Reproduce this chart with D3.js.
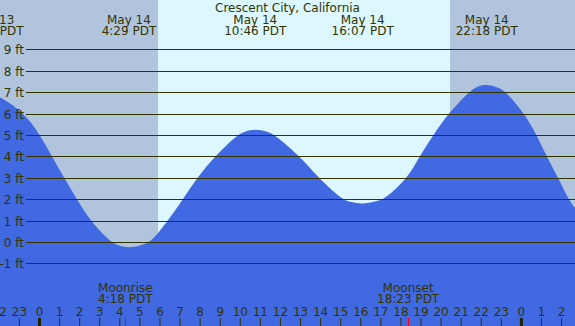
<!DOCTYPE html>
<html>
<head>
<meta charset="utf-8">
<script src="https://cdn.jsdelivr.net/npm/d3@7"></script>
<style>
  body { margin: 0; background: #fff; }
  svg { display: block; font-family: "DejaVu Sans", sans-serif; }
</style>
</head>
<body>
<div id="chart"></div>
<script>
// tide curve, hours from May 14 00:00 PDT -> feet
var tideHours = [-2.3, -1.94, -0.70, 0.05, 0.65, 1.25, 1.89, 2.54, 3.54, 4.03, 4.48, 5.03, 5.61, 6.42, 7.17, 7.87, 8.76, 9.8, 10.2, 10.77, 11.4, 11.8, 13.0, 13.91, 15.07, 15.55, 16.12, 16.75, 17.23, 18.38, 18.94, 19.64, 20.38, 21.4, 21.8, 22.30, 22.85, 23.29, 24.17, 24.79, 25.28, 25.86, 26.36, 26.72, 27.2];
var tideFeet  = [6.87, 6.80, 6.0, 5.0, 4.0, 3.0, 2.0, 1.0, 0.0, -0.19, -0.27, -0.17, 0.0, 1.0, 2.0, 3.0, 4.0, 4.95, 5.16, 5.28, 5.16, 4.97, 4.0, 3.0, 2.0, 1.86, 1.76, 1.90, 2.0, 3.0, 4.0, 5.0, 6.0, 7.0, 7.28, 7.37, 7.23, 7.0, 6.0, 5.0, 4.0, 3.0, 2.0, 1.55, 1.0];

// high / low tide labels
var eventHours = [-2.32, 4.48, 10.77, 16.12, 22.30];
var eventDates = ["May 13", "May 14", "May 14", "May 14", "May 14"];
var eventTimes = ["21:41 PDT", "4:29 PDT", "10:46 PDT", "16:07 PDT", "22:18 PDT"];

// moon
var moonHours = [4.30, 18.383];
var moonNames = ["Moonrise", "Moonset"];
var moonTimes = ["4:18 PDT", "18:23 PDT"];

// daylight
var sunrise = 5.93, sunset = 20.47;

var feetTicks = [-1, 0, 1, 2, 3, 4, 5, 6, 7, 8, 9];
var hourTicks = d3.range(-2, 27);

var W = 575, H = 326;
var night = "#b0c4de", day = "#ddf7fe", water = "#4169e1", ink = "#333300";

var svg = d3.select("#chart").append("svg")
  .attr("width", W)
  .attr("height", H);

var x = d3.scaleLinear().domain([0, 24]).range([39, 520.9]);
var y = d3.scaleLinear().domain([0, 9]).range([242, 49.4]);

// background: night then day
svg.append("rect")
  .attr("x", 0).attr("y", 0)
  .attr("width", W).attr("height", H)
  .attr("fill", night);
svg.append("rect")
  .attr("x", x(sunrise)).attr("y", 0)
  .attr("width", x(sunset) - x(sunrise)).attr("height", H)
  .attr("fill", day);

// water
var pts = tideHours.map(function(h, i) { return [h, tideFeet[i]]; });
var area = d3.area()
  .x(function(d) { return x(d[0]); })
  .y0(H)
  .y1(function(d) { return y(d[1]); })
  .curve(d3.curveBasis);
svg.append("path")
  .datum(pts)
  .attr("d", area)
  .attr("fill", water);

// feet grid
svg.selectAll(".grid")
  .data(feetTicks)
  .enter().append("line")
  .attr("x1", 26).attr("x2", W)
  .attr("y1", function(d) { return Math.round(y(d)) + 0.5; })
  .attr("y2", function(d) { return Math.round(y(d)) + 0.5; })
  .attr("stroke", ink)
  .attr("stroke-width", 1);
svg.selectAll(".flab")
  .data(feetTicks)
  .enter().append("text")
  .attr("x", 24)
  .attr("y", function(d) { return Math.round(y(d)) + 4.5; })
  .attr("text-anchor", "end")
  .attr("font-size", "12px")
  .attr("fill", ink)
  .text(function(d) { return d + " ft"; });

// title
svg.append("text")
  .attr("x", W / 2).attr("y", 12)
  .attr("text-anchor", "middle")
  .attr("font-size", "12px")
  .attr("fill", ink)
  .text("Crescent City, California");

// tide event labels
eventHours.forEach(function(h, i) {
  var t = svg.append("text")
    .attr("text-anchor", "middle")
    .attr("font-size", "12px")
    .attr("fill", ink);
  t.append("tspan").attr("x", x(h)).attr("y", 23.5).text(eventDates[i]);
  t.append("tspan").attr("x", x(h)).attr("y", 35).text(eventTimes[i]);
});

// moon labels
moonHours.forEach(function(h, i) {
  var t = svg.append("text")
    .attr("text-anchor", "middle")
    .attr("font-size", "12px")
    .attr("fill", ink);
  t.append("tspan").attr("x", x(h)).attr("y", 291.5).text(moonNames[i]);
  t.append("tspan").attr("x", x(h)).attr("y", 303).text(moonTimes[i]);
});

// hour axis along the bottom
var axis = svg.append("g")
  .attr("transform", "translate(0," + H + ")")
  .call(d3.axisTop(x)
    .tickValues(hourTicks)
    .tickSize(8)
    .tickPadding(2)
    .tickFormat(function(h) { return ((h % 24) + 24) % 24; }));
axis.select(".domain").remove();
axis.selectAll("text")
  .attr("font-family", "DejaVu Sans, sans-serif")
  .attr("font-size", "12px")
  .attr("fill", ink);
axis.selectAll(".tick line")
  .attr("stroke", function(h) { return h % 24 === 0 ? "#222200" : ink; })
  .attr("stroke-width", function(h) { return h % 24 === 0 ? 3 : 1; });

// moonrise / moonset marks
svg.selectAll(".moon")
  .data(moonHours)
  .enter().append("line")
  .attr("x1", function(d) { return Math.round(x(d)) + 0.5; })
  .attr("x2", function(d) { return Math.round(x(d)) + 0.5; })
  .attr("y1", H - 8).attr("y2", H)
  .attr("stroke", "#ff0000")
  .attr("stroke-width", 1);
</script>
</body>
</html>
